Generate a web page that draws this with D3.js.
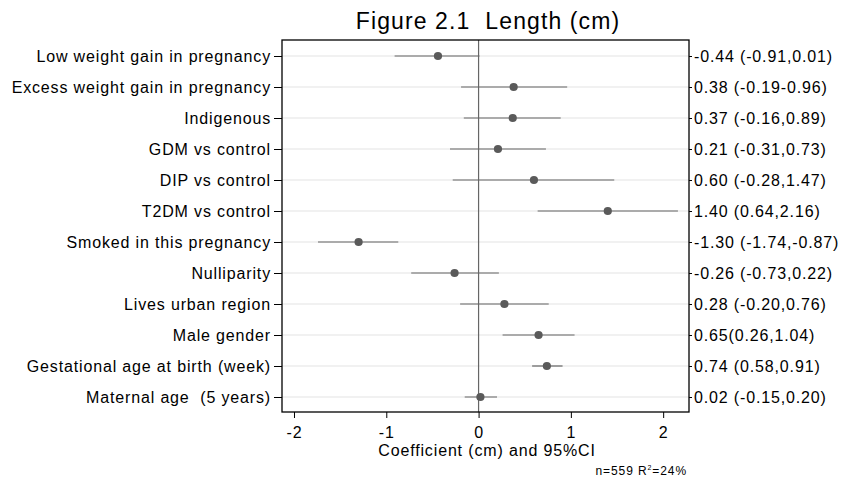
<!DOCTYPE html>
<html>
<head>
<meta charset="utf-8">
<script src="https://cdn.jsdelivr.net/npm/d3@7.9.0/dist/d3.min.js"></script>
<style>
  body { margin: 0; background: #fff; }
  svg { font-family: "Liberation Sans", Arial, sans-serif; }
  text { white-space: pre; }
</style>
</head>
<body>
<svg id="chart" width="843" height="480"></svg>
<script>
const labels = [
  'Low weight gain in pregnancy',
  'Excess weight gain in pregnancy',
  'Indigenous',
  'GDM vs control',
  'DIP vs control',
  'T2DM vs control',
  'Smoked in this pregnancy',
  'Nulliparity',
  'Lives urban region',
  'Male gender',
  'Gestational age at birth (week)',
  'Maternal age  (5 years)'
];
const coef = [-0.44, 0.38, 0.37, 0.21, 0.60, 1.40, -1.30, -0.26, 0.28, 0.65, 0.74, 0.02];
const lower = [-0.91, -0.19, -0.16, -0.31, -0.28, 0.64, -1.74, -0.73, -0.20, 0.26, 0.58, -0.15];
const upper = [0.01, 0.96, 0.89, 0.73, 1.47, 2.16, -0.87, 0.22, 0.76, 1.04, 0.91, 0.20];
const ciText = [
  '-0.44 (-0.91,0.01)',
  '0.38 (-0.19-0.96)',
  '0.37 (-0.16,0.89)',
  '0.21 (-0.31,0.73)',
  '0.60 (-0.28,1.47)',
  '1.40 (0.64,2.16)',
  '-1.30 (-1.74,-0.87)',
  '-0.26 (-0.73,0.22)',
  '0.28 (-0.20,0.76)',
  '0.65(0.26,1.04)',
  '0.74 (0.58,0.91)',
  '0.02 (-0.15,0.20)'
];
const xTicks = [-2, -1, 0, 1, 2];

const svg = d3.select('#chart');
const plotLeft = 282, plotRight = 689, plotTop = 40, plotBottom = 412;
const font = 'Liberation Sans, Arial, sans-serif';

const x = d3.scaleLinear().domain([-2.13, 2.28]).range([plotLeft, plotRight]);
const y = d3.scalePoint().domain(labels).range([56, 397]);

function styleText(sel) {
  sel.attr('font-size', 16)
    .attr('letter-spacing', 0.85)
    .attr('fill', '#000')
    .attr('font-family', font);
}

// gridlines
svg.append('g')
  .selectAll('line')
  .data(labels)
  .join('line')
  .attr('x1', plotLeft).attr('x2', plotRight)
  .attr('y1', (d) => y(d)).attr('y2', (d) => y(d))
  .attr('stroke', '#e4e4e4')
  .attr('stroke-width', 1.2);

// zero line
svg.append('line')
  .attr('x1', x(0)).attr('x2', x(0))
  .attr('y1', plotTop).attr('y2', plotBottom)
  .attr('stroke', '#666')
  .attr('stroke-width', 1.2);

// CIs
svg.append('g')
  .selectAll('line')
  .data(labels)
  .join('line')
  .attr('x1', (d, i) => x(lower[i]))
  .attr('x2', (d, i) => x(upper[i]))
  .attr('y1', (d) => y(d)).attr('y2', (d) => y(d))
  .attr('stroke', '#666')
  .attr('stroke-width', 1.2);

// points
svg.append('g')
  .selectAll('circle')
  .data(labels)
  .join('circle')
  .attr('cx', (d, i) => x(coef[i]))
  .attr('cy', (d) => y(d))
  .attr('r', 4.1)
  .attr('fill', '#5a5a5a');

// frame
svg.append('rect')
  .attr('x', plotLeft).attr('y', plotTop)
  .attr('width', plotRight - plotLeft).attr('height', plotBottom - plotTop)
  .attr('fill', 'none')
  .attr('stroke', '#000')
  .attr('stroke-width', 1.3);

// left axis
const yAxis = svg.append('g')
  .attr('transform', `translate(${plotLeft},0)`)
  .call(d3.axisLeft(y).tickSize(8).tickPadding(3));
yAxis.select('.domain').remove();
yAxis.selectAll('text').call(styleText);

// right axis with CI text
const yRight = svg.append('g')
  .attr('transform', `translate(${plotRight},0)`)
  .call(d3.axisRight(y).tickSize(3).tickPadding(2).tickFormat((d, i) => ciText[i]));
yRight.select('.domain').remove();
yRight.selectAll('text').call(styleText);

// bottom axis
const xAxis = svg.append('g')
  .attr('transform', `translate(0,${plotBottom})`)
  .call(d3.axisBottom(x).tickValues(xTicks).tickSize(6).tickPadding(9).tickFormat((d) => String(d)));
xAxis.select('.domain').remove();
xAxis.selectAll('text').call(styleText);

svg.append('text')
  .attr('x', 487).attr('y', 456)
  .attr('text-anchor', 'middle')
  .call(styleText)
  .text('Coefficient (cm) and 95%CI');

svg.append('text')
  .attr('x', 488).attr('y', 29)
  .attr('text-anchor', 'middle')
  .attr('font-size', 23)
  .attr('letter-spacing', 1.1)
  .text('Figure 2.1  Length (cm)');

const foot = svg.append('text')
  .attr('x', 687).attr('y', 475)
  .attr('text-anchor', 'end')
  .attr('font-size', 12)
  .attr('letter-spacing', 0.9);
foot.append('tspan').text('n=559 R');
foot.append('tspan').attr('dy', -5).attr('font-size', 7).text('2');
foot.append('tspan').attr('dy', 5).text('=24%');
</script>
</body>
</html>
